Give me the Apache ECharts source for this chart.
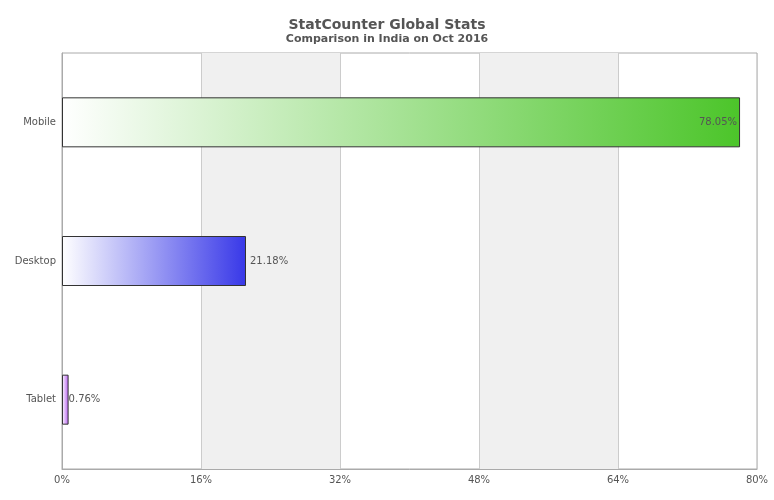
<!DOCTYPE html>
<html>
<head>
<meta charset="utf-8">
<script src="https://cdn.jsdelivr.net/npm/echarts@6/dist/echarts.min.js"></script>
<style>html,body{margin:0;padding:0;background:#fff;}#c{width:774px;height:500px;}</style>
</head>
<body>
<div id="c"></div>
<script>
var categories = ['Mobile', 'Desktop', 'Tablet'];
var values = [78.05, 21.18, 0.76];
var endColors = ['#4cc52a', '#3838e8', '#b65cf0'];
var labelPositions = ['insideRight', 'right', 'right'];
var labelDistances = [3, 4, 0];
var xTicks = [0, 16, 32, 48, 64, 80];

var chart = echarts.init(document.getElementById('c'));
var data = values.map(function (v, i) {
  return {
    value: v,
    itemStyle: {
      color: new echarts.graphic.LinearGradient(0, 0, 1, 0, [
        { offset: 0, color: '#ffffff' },
        { offset: 1, color: endColors[i] }
      ]),
      borderColor: '#333',
      borderWidth: 1
    },
    label: { position: labelPositions[i], distance: labelDistances[i] }
  };
});
chart.setOption({
  animation: false,
  textStyle: { fontFamily: 'DejaVu Sans' },
  title: {
    text: 'StatCounter Global Stats',
    subtext: 'Comparison in India on Oct 2016',
    left: 'center',
    top: 13,
    itemGap: 2,
    textStyle: { fontSize: 14, fontWeight: 'bold', color: '#555', fontFamily: 'DejaVu Sans' },
    subtextStyle: { fontSize: 11, fontWeight: 'bold', color: '#555', fontFamily: 'DejaVu Sans' }
  },
  grid: { left: 62, right: 17, top: 53, bottom: 31, show: true, borderColor: '#aaa', borderWidth: 1, backgroundColor: 'transparent' },
  xAxis: {
    type: 'value',
    min: xTicks[0],
    max: xTicks[xTicks.length - 1],
    interval: 16,
    axisLine: { show: true, lineStyle: { color: '#aaa' } },
    axisTick: { show: false },
    axisLabel: { formatter: '{value}%', color: '#555', fontSize: 10, margin: 6 },
    splitLine: { show: true, lineStyle: { color: '#ccc' } },
    splitArea: { show: true, areaStyle: { color: ['rgba(255,255,255,0)', '#f0f0f0'] } }
  },
  yAxis: {
    type: 'category',
    data: categories,
    inverse: true,
    axisLine: { show: true, lineStyle: { color: '#aaa' } },
    axisTick: { show: false },
    axisLabel: { color: '#555', fontSize: 10, margin: 6 },
    splitLine: { show: false }
  },
  series: [{
    type: 'bar',
    data: data,
    barWidth: 50,
    label: {
      show: true,
      formatter: function (p) { return p.value.toFixed(2) + '%'; },
      color: '#555',
      fontSize: 10
    }
  }]
});
</script>
</body>
</html>
